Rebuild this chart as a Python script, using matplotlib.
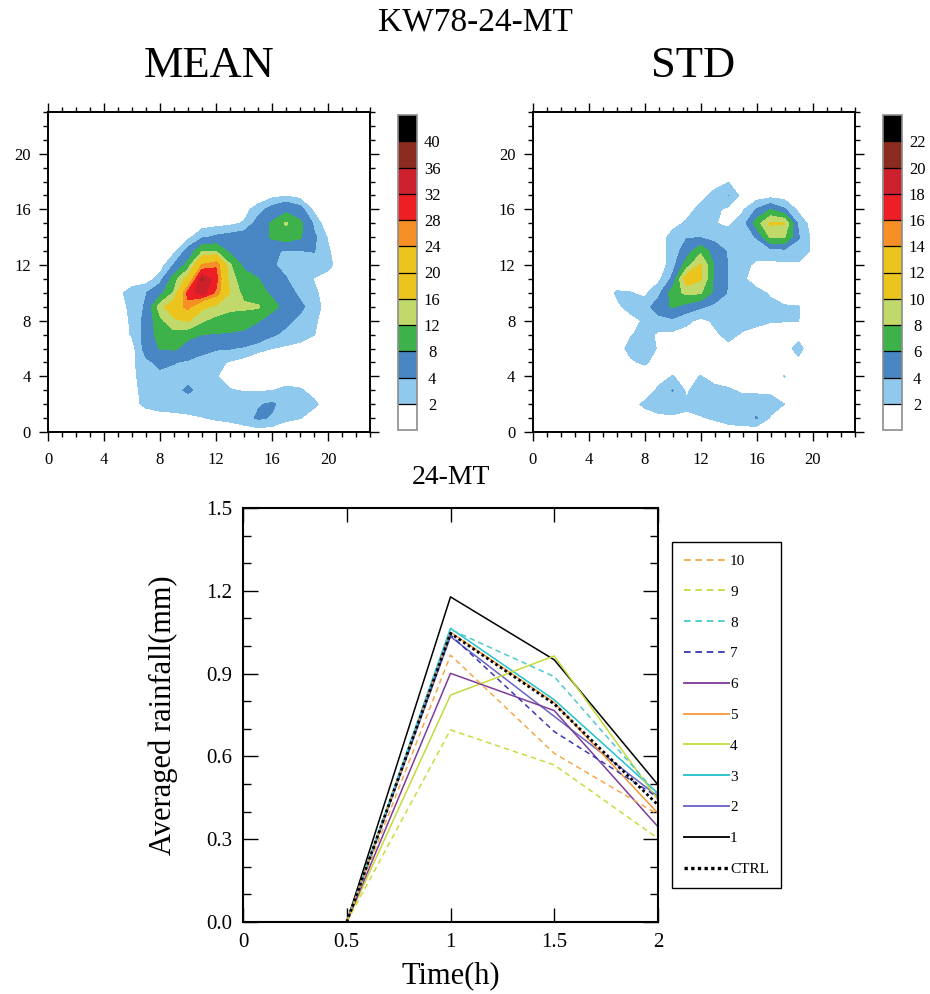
import numpy as np
import matplotlib.pyplot as plt
from matplotlib.ticker import MultipleLocator

plt.rcParams['font.family'] = ['Liberation Serif', 'DejaVu Serif']

# ---- contour fields on the 24x24 grid (rows are y = 0..23, columns x = 0..23)
grid_x = np.arange(24)
grid_y = np.arange(24)

z = [0] * 24
mean_field = [
    [0, 0, 0, 0, 0, 0, 0, 0, 0, 0, 0, 0, 0.3, 0.5, 0.8, 1.0, 0.8, 0.5, 0.2, 0, 0, 0, 0, 0],
    [0, 0, 0, 0, 0, 0, 0, 0.5, 1.0, 1.3, 1.6, 1.9, 2.3, 2.6, 3.2, 4.3, 3.8, 2.5, 2.1, 0.8, 0.2, 0, 0, 0],
    [0, 0, 0, 0, 0, 0.3, 1.2, 2.6, 3.0, 3.0, 3.0, 3.0, 2.8, 2.7, 2.8, 3.8, 4.3, 3.2, 2.8, 2.5, 0.8, 0, 0, 0],
    [0, 0, 0, 0, 0, 0.2, 1.3, 2.8, 3.2, 3.5, 4.3, 3.4, 2.8, 2.1, 1.9, 1.8, 1.95, 2.6, 2.3, 1.2, 0.3, 0, 0, 0],
    [0, 0, 0, 0, 0, 0.3, 1.5, 3.0, 3.5, 3.3, 3.5, 3.0, 2.1, 1.3, 0.8, 0.5, 0.5, 0.6, 0.5, 0.2, 0, 0, 0, 0],
    [0, 0, 0, 0, 0, 0.3, 1.5, 3.5, 4.5, 4.1, 3.5, 3.0, 2.5, 1.8, 1.2, 0.8, 0.5, 0.3, 0, 0, 0, 0, 0, 0],
    [0, 0, 0, 0, 0.1, 0.5, 1.2, 5.0, 8.2, 8.5, 6.5, 4.8, 4.2, 4.1, 3.5, 2.5, 2.0, 1.6, 1.2, 0.6, 0.1, 0, 0, 0],
    [0, 0, 0, 0, 0.2, 0.8, 2.2, 5.0, 10.0, 10.5, 9.0, 8.0, 7.8, 7.6, 7.5, 6.0, 4.3, 3.5, 3.0, 2.1, 0.4, 0, 0, 0],
    [0, 0, 0, 0, 0.3, 1.0, 2.3, 4.8, 11.0, 15.0, 16.5, 12.5, 10.5, 10.0, 9.0, 8.2, 6.5, 4.5, 3.5, 2.5, 0.5, 0, 0, 0],
    [0, 0, 0, 0, 0.5, 1.0, 2.6, 4.3, 14.0, 20.0, 26.0, 17.0, 15.0, 13.0, 13.0, 12.5, 9.0, 7.0, 4.5, 3.0, 1.0, 0.3, 0, 0],
    [0, 0, 0, 0, 0.5, 1.5, 2.8, 3.9, 6.5, 12.5, 30.0, 34.0, 27.0, 16.0, 10.5, 9.0, 7.5, 5.0, 3.5, 2.5, 0.8, 0, 0, 0],
    [0, 0, 0, 0, 0, 0.5, 1.0, 1.0, 2.8, 10.0, 18.0, 36.3, 30.0, 13.5, 10.0, 8.2, 5.0, 4.1, 3.0, 1.9, 1.2, 0.3, 0, 0],
    [0, 0, 0, 0, 0, 0, 0, 0, 1.0, 4.2, 9.5, 24.5, 27.5, 12.5, 7.0, 5.5, 4.2, 3.5, 3.2, 3.0, 2.6, 0.8, 0, 0],
    [0, 0, 0, 0, 0, 0, 0, 0, 0, 1.5, 5.0, 11.5, 12.0, 7.0, 6.0, 5.5, 4.3, 3.8, 3.9, 4.1, 2.3, 0.5, 0, 0],
    [0, 0, 0, 0, 0, 0, 0, 0, 0, 0.5, 1.5, 3.5, 4.5, 5.0, 5.5, 6.0, 8.5, 10.0, 8.5, 4.5, 1.8, 0.5, 0, 0],
    [0, 0, 0, 0, 0, 0, 0, 0, 0, 0, 0, 1.0, 1.2, 1.5, 2.2, 5.0, 8.5, 12.5, 9.0, 3.5, 0.5, 0, 0, 0],
    [0, 0, 0, 0, 0, 0, 0, 0, 0, 0, 0, 0, 0, 0, 1.2, 3.0, 5.0, 6.5, 5.0, 1.5, 0.3, 0, 0, 0],
    [0, 0, 0, 0, 0, 0, 0, 0, 0, 0, 0, 0, 0, 0, 0, 0.5, 1.3, 1.8, 1.2, 0.3, 0, 0, 0, 0],
    z, z, z, z, z, z,
]

std_field = [
    [0, 0, 0, 0, 0, 0, 0, 0, 0, 0, 0, 0, 0, 0.5, 1.0, 1.2, 0.5, 0.3, 0, 0, 0, 0, 0, 0],
    [0, 0, 0, 0, 0, 0, 0, 0.3, 1.0, 1.6, 1.7, 1.7, 1.8, 2.3, 2.8, 3.0, 4.1, 1.8, 0.8, 0.2, 0, 0, 0, 0],
    [0, 0, 0, 0, 0, 0, 0.2, 1.2, 2.4, 2.8, 3.0, 2.3, 3.0, 3.2, 3.3, 3.2, 3.4, 2.8, 2.0, 0.5, 0, 0, 0, 0],
    [0, 0, 0, 0, 0, 0, 0, 0.3, 0.8, 2.4, 4.1, 1.7, 3.0, 2.6, 2.3, 1.6, 1.5, 1.6, 1.0, 0.3, 0, 0, 0, 0],
    [0, 0, 0, 0, 0, 0, 0, 0, 0.3, 1.2, 2.1, 1.3, 2.1, 1.2, 0.8, 0.5, 0.5, 0.8, 2.1, 0.4, 0, 0, 0, 0],
    [0, 0, 0, 0, 0, 0, 0.5, 1.6, 2.4, 1.0, 0.4, 0, 0, 0, 0, 0, 0, 0, 0.5, 1.5, 0.3, 0, 0, 0],
    [0, 0, 0, 0, 0, 0.2, 0.8, 2.8, 3.0, 1.8, 0.8, 0.5, 0.4, 0.5, 1.5, 0.6, 0.4, 0.5, 1.2, 2.7, 0.6, 0, 0, 0],
    [0, 0, 0, 0, 0, 0, 0.8, 1.8, 2.8, 1.6, 1.5, 1.2, 1.1, 1.7, 2.5, 1.8, 1.5, 1.2, 1.0, 1.3, 0.3, 0, 0, 0],
    [0, 0, 0, 0, 0, 0, 0.5, 1.2, 2.3, 3.3, 3.6, 2.5, 1.5, 2.3, 2.8, 2.7, 2.4, 2.1, 2.1, 2.05, 0.5, 0, 0, 0],
    [0, 0, 0, 0, 0, 0.3, 1.5, 2.8, 3.2, 5.0, 6.2, 5.2, 4.3, 3.5, 3.2, 2.8, 2.5, 2.4, 2.2, 2.1, 0.5, 0, 0, 0],
    [0, 0, 0, 0, 0, 0.5, 2.3, 2.1, 1.5, 3.5, 7.0, 8.5, 8.2, 5.5, 3.8, 3.0, 2.5, 1.8, 0.8, 0.3, 0, 0, 0, 0],
    [0, 0, 0, 0, 0, 0, 0.3, 0.8, 0.5, 1.5, 4.5, 11.5, 10.3, 5.5, 3.9, 2.3, 1.2, 0.5, 0.3, 0, 0, 0, 0, 0],
    [0, 0, 0, 0, 0, 0, 0, 0, 0.3, 0.5, 3.2, 7.0, 10.3, 5.8, 3.9, 2.6, 1.6, 1.5, 1.6, 1.7, 1.2, 0.2, 0, 0],
    [0, 0, 0, 0, 0, 0, 0, 0, 0, 0.5, 3.0, 5.0, 7.5, 5.0, 3.8, 3.0, 2.8, 3.0, 3.3, 3.0, 1.7, 0.3, 0, 0],
    [0, 0, 0, 0, 0, 0, 0, 0, 0, 0.8, 2.8, 3.9, 3.9, 3.5, 3.0, 3.2, 4.1, 8.3, 8.1, 4.2, 1.5, 0.3, 0, 0],
    [0, 0, 0, 0, 0, 0, 0, 0, 0, 0, 1.3, 2.3, 2.6, 2.1, 1.6, 3.0, 7.0, 10.3, 10.1, 3.5, 1.0, 0.2, 0, 0],
    [0, 0, 0, 0, 0, 0, 0, 0, 0, 0, 0, 1.2, 2.6, 2.5, 1.5, 1.7, 4.2, 6.0, 4.3, 1.5, 0.3, 0, 0, 0],
    [0, 0, 0, 0, 0, 0, 0, 0, 0, 0, 0, 0, 1.4, 2.6, 4.05, 1.2, 0.8, 1.2, 1.0, 0.3, 0, 0, 0, 0],
    [0, 0, 0, 0, 0, 0, 0, 0, 0, 0, 0, 0, 0, 1.2, 1.9, 0.5, 0, 0, 0, 0, 0, 0, 0, 0],
    z, z, z, z, z,
]

mean_levels = [2, 4, 8, 12, 16, 20, 24, 28, 32, 36, 40]
std_levels = [2, 4, 6, 8, 10, 12, 14, 16, 18, 20, 22]
fill_colors = ['#FFFFFF', '#8FCAEE', '#4886C4', '#3EB24A', '#C1D86A', '#EBC51E',
               '#EBC51E', '#F68F26', '#ED1F25', '#CC202C', '#8B2A1E', '#000000']

# ---- time series
time_h = [0.5, 1.0, 1.5, 2.0]
members = {
    '1': [0, 1.178, 0.950, 0.497],
    '2': [0, 1.034, 0.745, 0.455],
    '3': [0, 1.064, 0.805, 0.466],
    '4': [0, 0.822, 0.964, 0.442],
    '5': [0, 1.050, 0.795, 0.394],
    '6': [0, 0.901, 0.766, 0.345],
    '7': [0, 1.040, 0.690, 0.452],
    '8': [0, 1.060, 0.889, 0.460],
    '9': [0, 0.696, 0.569, 0.303],
    '10': [0, 0.967, 0.611, 0.390],
}
ctrl = [0, 1.046, 0.790, 0.424]
member_colors = {'1': 'black', '2': '#6A64C6', '3': '#22C2CC', '4': '#C4DA3A',
                 '5': '#F59A3A', '6': '#7E3C9A', '7': '#3A3AAE', '8': '#4CCACA',
                 '9': '#C8DC40', '10': '#F6A84A'}
dashed = ['7', '8', '9', '10']

W, H = 930, 994
fig = plt.figure(figsize=(W / 100, H / 100), dpi=100)


def box(x0, y0, x1, y1):
    # pixel box (top-left origin) -> figure fraction rect
    return [x0 / W, 1 - y1 / H, (x1 - x0) / W, (y1 - y0) / H]


def contour_panel(rect, crect, field, levels, title):
    ax = fig.add_axes(rect)
    bounds = [-1] + levels + [1000]
    cf = ax.contourf(grid_x, grid_y, np.array(field), levels=bounds, colors=fill_colors)
    ax.set_xlim(0, 23)
    ax.set_ylim(0, 23)
    ax.set_xticks(range(0, 21, 4))
    ax.set_yticks(range(0, 21, 4))
    ax.xaxis.set_minor_locator(MultipleLocator(1))
    ax.yaxis.set_minor_locator(MultipleLocator(1))
    ax.tick_params(which='both', direction='out', top=True, right=True, width=1.0,
                   labelsize=12)
    ax.tick_params(which='major', length=6.3, pad=6)
    ax.tick_params(axis='x', which='major', pad=8)
    ax.tick_params(which='minor', length=3.4)
    for s in ax.spines.values():
        s.set_linewidth(1.4)
    ax.set_title(title, fontsize=32, pad=25)

    cax = fig.add_axes(crect)
    cb = fig.colorbar(cf, cax=cax, ticks=levels, spacing='uniform', drawedges=True)
    cb.outline.set_edgecolor('0.55')
    cb.outline.set_linewidth(1.2)
    cb.dividers.set_color('black')
    cb.dividers.set_linewidth(0.9)
    cax.tick_params(length=0, labelsize=12, pad=11)
    for lbl in cax.get_yticklabels():
        lbl.set_horizontalalignment('center')
    return ax


contour_panel(box(48, 112, 370, 432), box(398, 115, 417, 430), mean_field, mean_levels, 'MEAN')
contour_panel(box(532.5, 112, 854.5, 432), box(883, 115, 902, 430), std_field, std_levels, 'STD')

fig.text(475 / W, 1 - 22 / H, 'KW78-24-MT', fontsize=24, ha='center', va='center')

# ---- bottom line chart
ax = fig.add_axes(box(243, 508, 658, 922))
for key, vals in members.items():
    ls = (0, (3.6, 2.6)) if key in dashed else '-'
    ax.plot(time_h, vals, color=member_colors[key], lw=1.1, linestyle=ls, label=key)
ax.plot(time_h, ctrl, color='black', lw=2.0, linestyle=(0, (1, 1)), label='CTRL')

ax.set_xlim(0, 2)
ax.set_ylim(0, 1.5)
ax.set_xticks([0, 0.5, 1, 1.5, 2])
ax.set_xticklabels(['0', '0.5', '1', '1.5', '2'])
ax.set_yticks(np.arange(0, 1.51, 0.3))
ax.set_yticklabels(['0.0', '0.3', '0.6', '0.9', '1.2', '1.5'])
ax.yaxis.set_minor_locator(MultipleLocator(0.1))
ax.tick_params(which='both', direction='in', top=True, right=True, width=1.0, labelsize=15)
ax.tick_params(axis='y', which='major', length=10.5, pad=8)
ax.tick_params(axis='y', which='minor', length=5.5)
ax.tick_params(axis='x', which='major', length=10, pad=8)
for s in ax.spines.values():
    s.set_linewidth(1.5)
ax.set_title('24-MT', fontsize=20, pad=17)
ax.set_xlabel('Time(h)', fontsize=22)
ax.set_ylabel('Averaged rainfall(mm)', fontsize=22)
ax.xaxis.set_label_coords(0.5, -0.095)
ax.yaxis.set_label_coords(-0.157, 0.5)

handles, labels = ax.get_legend_handles_labels()
order = [labels.index(k) for k in ['10', '9', '8', '7', '6', '5', '4', '3', '2', '1', 'CTRL']]
leg = fig.legend([handles[i] for i in order], [labels[i] for i in order],
                 loc='upper left', bbox_to_anchor=(672 / W, 1 - 542 / H),
                 bbox_transform=fig.transFigure, fontsize=11, handlelength=2.9,
                 handletextpad=0.1, labelspacing=1.12, borderpad=0.8,
                 borderaxespad=0, fancybox=False, framealpha=1)
leg.get_frame().set_edgecolor('black')
leg.get_frame().set_linewidth(1.0)
for line in leg.get_lines():
    line.set_linewidth(line.get_linewidth() * 1.2)

fig.savefig('out.png', dpi=100)
